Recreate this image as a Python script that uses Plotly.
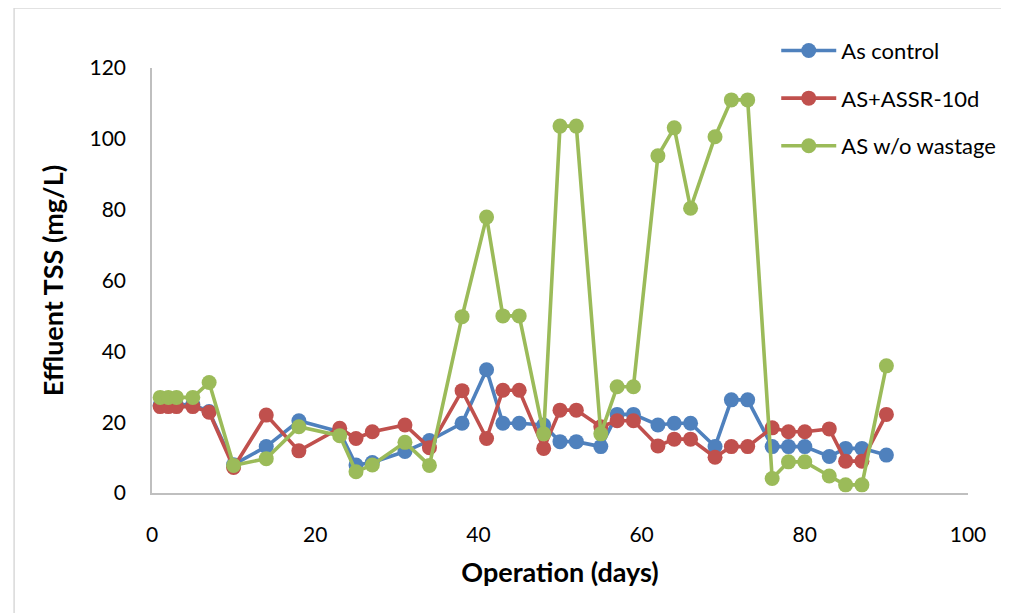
import plotly.graph_objects as go

days_control = [1, 2, 3, 5, 7, 10, 14, 18, 23, 25, 27, 31, 34, 38, 41, 43, 45, 48, 50, 52, 55, 57, 59, 62, 64, 66, 69, 71, 73, 76, 78, 80, 83, 85, 87, 90]
as_control = [24.8, 24.8, 24.8, 25.0, 23.0, 8.0, 13.1, 20.4, 17.3, 7.9, 8.6, 11.7, 14.8, 19.7, 34.8, 19.7, 19.7, 19.2, 14.5, 14.5, 13.1, 22.2, 22.2, 19.2, 19.7, 19.7, 13.1, 26.3, 26.3, 13.1, 13.1, 13.1, 10.3, 12.6, 12.6, 10.7]
as_assr = [24.4, 24.4, 24.4, 24.4, 22.8, 7.2, 22.0, 11.9, 18.3, 15.4, 17.3, 19.2, 12.8, 28.9, 15.4, 29.0, 29.0, 12.6, 23.4, 23.4, 18.7, 20.4, 20.4, 13.3, 15.2, 15.2, 10.1, 13.1, 13.1, 18.4, 17.3, 17.3, 18.1, 9.0, 9.0, 22.2]
as_no_waste = [27.0, 27.0, 27.0, 27.0, 31.2, 7.8, 9.7, 18.7, 16.2, 6.0, 7.9, 14.3, 7.8, 49.8, 77.9, 50.0, 50.0, 16.7, 103.6, 103.6, 16.7, 30.0, 30.0, 95.2, 103.1, 80.4, 100.6, 111.0, 111.0, 4.1, 8.8, 8.8, 4.8, 2.3, 2.3, 35.9]

series_names = ["As control", "AS+ASSR-10d", "AS w/o wastage"]
series_values = [as_control, as_assr, as_no_waste]
colors = ["#4F81BD", "#C0504D", "#9BBB59"]

x_ticks = [0, 20, 40, 60, 80, 100]
y_ticks = [0, 20, 40, 60, 80, 100, 120]

FONT = "Lato, 'Open Sans', sans-serif"

fig = go.Figure()
for i, (name, vals, c) in enumerate(zip(series_names, series_values, colors)):
    fig.add_trace(go.Scatter(
        x=days_control, y=vals, name=name, mode="lines+markers",
        line=dict(color=c, width=3.6),
        marker=dict(color=c, size=15, symbol="circle"),
        legendgroup=f"g{i}",
    ))

fig.update_layout(
    width=1009, height=613,
    margin=dict(l=144, r=49, t=60, b=128),
    paper_bgcolor="white", plot_bgcolor="white",
    font=dict(family=FONT, size=21, color="#000000"),
    showlegend=True,
    legend=dict(
        x=0.765, y=1.09, xanchor="left", yanchor="top",
        font=dict(family=FONT, size=22, color="#000000"),
        bgcolor="rgba(0,0,0,0)", tracegroupgap=16, itemwidth=55,
    ),
    xaxis=dict(
        range=[0, 100], tickvals=x_ticks, ticktext=[str(v) for v in x_ticks],
        showgrid=False, zeroline=False, showline=True, linecolor="#BFBFBF", linewidth=1.5,
        ticks="", ticklabelstandoff=22,
        title=dict(text="<b>Operation (days)</b>", font=dict(family=FONT, size=27), standoff=18),
    ),
    yaxis=dict(
        range=[0, 120], tickvals=y_ticks, ticktext=[str(v) for v in y_ticks],
        showgrid=False, zeroline=False, showline=True, linecolor="#BFBFBF", linewidth=1.5,
        ticks="", ticklabelstandoff=20,
        title=dict(text="<b>Effluent TSS (mg/L)</b>", font=dict(family=FONT, size=27), standoff=18),
    ),
    shapes=[dict(type="rect", xref="paper", yref="paper",
                 x0=-0.169, x1=1.044, y0=-0.3, y1=1.141,
                 line=dict(color="#D9D9D9", width=1.5), fillcolor="rgba(0,0,0,0)", layer="below")],
)

fig.write_html("out.html")
